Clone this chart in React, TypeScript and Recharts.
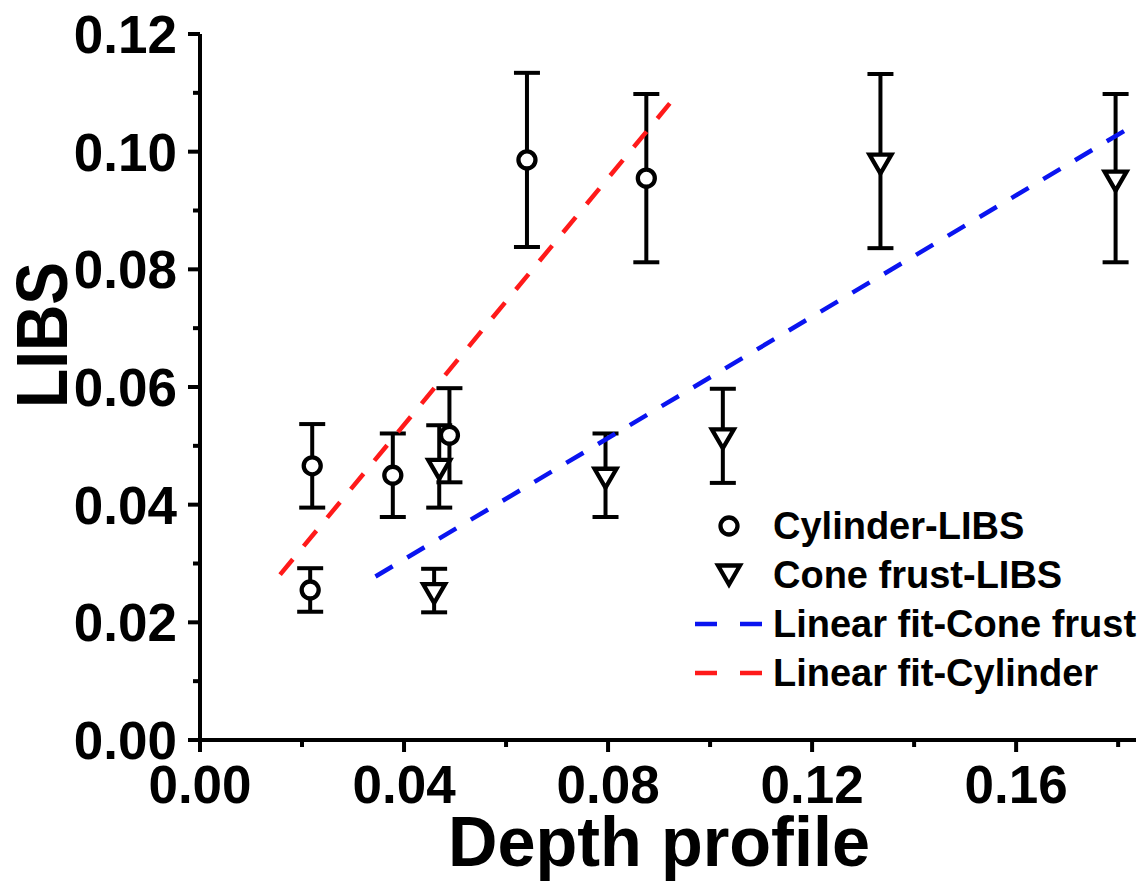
import { ScatterChart, Scatter, XAxis, YAxis, ErrorBar, Legend, Label } from 'recharts'

// values
const cylX = [0.022, 0.0216, 0.0378, 0.0489, 0.0641, 0.0875]
const cylY = [0.0466, 0.0255, 0.045, 0.0518, 0.0986, 0.0955]
const cylErr = [0.0071, 0.0037, 0.0071, 0.008, 0.0148, 0.0143]

const coneX = [0.0469, 0.0459, 0.0795, 0.1025, 0.1334, 0.1795]
const coneY = [0.0465, 0.0254, 0.045, 0.0517, 0.0984, 0.0955]
const coneErr = [0.007, 0.0037, 0.0071, 0.008, 0.0148, 0.0143]

const cylFitX = [0.0157, 0.0921]
const cylFitY = [0.0281, 0.1082]
const coneFitX = [0.0344, 0.1827]
const coneFitY = [0.0278, 0.1043]

const xTicks = [0, 0.02, 0.04, 0.06, 0.08, 0.1, 0.12, 0.14, 0.16, 0.18]
const yTicks = [0, 0.01, 0.02, 0.03, 0.04, 0.05, 0.06, 0.07, 0.08, 0.09, 0.1, 0.11, 0.12]

const legendNames = ['Cylinder-LIBS', 'Cone frust-LIBS', 'Linear fit-Cone frust', 'Linear fit-Cylinder']

const FONT = 'Arial, "Liberation Sans", sans-serif'
const RED = '#ff1a1a'
const BLUE = '#0a14f0'

const cylData = cylX.map((x, i) => ({ x, y: cylY[i], err: cylErr[i] }))
const coneData = coneX.map((x, i) => ({ x, y: coneY[i], err: coneErr[i] }))
const cylFit = cylFitX.map((x, i) => ({ x, y: cylFitY[i] }))
const coneFit = coneFitX.map((x, i) => ({ x, y: coneFitY[i] }))

function Circle({ cx, cy }: any) {
  return <circle cx={cx} cy={cy} r={8.5} fill="#fff" stroke="#000" strokeWidth={4.3} />
}

function TriDown({ cx, cy }: any) {
  return (
    <path
      d={`M${cx - 11},${cy - 6.5}L${cx + 11},${cy - 6.5}L${cx},${cy + 12.5}Z`}
      fill="#fff"
      stroke="#000"
      strokeWidth={4.3}
      strokeLinejoin="miter"
    />
  )
}

function XTick({ x, y, payload, index }: any) {
  const major = index % 2 === 0
  return (
    <g>
      <line x1={x} x2={x} y1={y} y2={y + (major ? 12 : 7)} stroke="#000" strokeWidth={4} />
      {major && (
        <text x={x} y={y + 63} textAnchor="middle" fontFamily={FONT} fontWeight="bold" fontSize={53} fill="#000">
          {payload.value.toFixed(2)}
        </text>
      )}
    </g>
  )
}

function YTick({ x, y, payload, index }: any) {
  const major = index % 2 === 0
  return (
    <g>
      <line x1={x} x2={x - (major ? 12 : 7)} y1={y} y2={y} stroke="#000" strokeWidth={4} />
      {major && (
        <text x={x - 23} y={y + 19} textAnchor="end" fontFamily={FONT} fontWeight="bold" fontSize={53} fill="#000">
          {payload.value.toFixed(2)}
        </text>
      )}
    </g>
  )
}

function LegendBox() {
  const rows = [31, 80, 129, 178]
  return (
    <svg width={468} height={200} style={{ display: 'block' }}>
      {legendNames.map((name, i) => {
        const cy = rows[i]
        let marker
        if (i === 0) marker = <Circle cx={49} cy={cy} />
        else if (i === 1) marker = <TriDown cx={49} cy={cy - 3} />
        else
          marker = (
            <line x1={15} x2={82} y1={cy} y2={cy} stroke={i === 2 ? BLUE : RED} strokeWidth={4.5} strokeDasharray="22 23" />
          )
        return (
          <g key={name}>
            {marker}
            <text x={93} y={cy + 13} fontFamily={FONT} fontWeight="bold" fontSize={38} fill="#000">
              {name}
            </text>
          </g>
        )
      })}
    </svg>
  )
}

export default function App() {
  return (
    <div style={{ position: 'absolute', left: 0, top: 0, width: 1148, height: 881, background: '#fff' }}>
      <ScatterChart width={1148} height={881} margin={{ top: 34, right: 12, left: 0, bottom: 0 }}>
        <XAxis
          type="number"
          dataKey="x"
          domain={[0, 0.1835]}
          ticks={xTicks}
          interval={0}
          height={141}
          tickSize={0}
          tickMargin={0}
          tickLine={false}
          tick={<XTick />}
          axisLine={{ stroke: '#000', strokeWidth: 4 }}
          allowDataOverflow
        >
          <Label
            content={() => (
              <text x={659} y={866} textAnchor="middle" fontFamily={FONT} fontWeight="bold" fontSize={71} textLength={422} lengthAdjust="spacingAndGlyphs" fill="#000">
                Depth profile
              </text>
            )}
          />
        </XAxis>
        <YAxis
          type="number"
          dataKey="y"
          domain={[0, 0.12]}
          ticks={yTicks}
          interval={0}
          width={200}
          tickSize={0}
          tickMargin={0}
          tickLine={false}
          tick={<YTick />}
          axisLine={{ stroke: '#000', strokeWidth: 4 }}
          allowDataOverflow
        >
          <Label
            content={() => (
              <text
                x={67}
                y={335}
                transform="rotate(-90 67 335)"
                textAnchor="middle"
                fontFamily={FONT}
                fontWeight="bold"
                fontSize={72}
                textLength={146}
                lengthAdjust="spacingAndGlyphs"
                fill="#000"
              >
                LIBS
              </text>
            )}
          />
        </YAxis>
        <Scatter
          name="Linear fit-Cone frust"
          data={coneFit}
          line={{ stroke: BLUE, strokeWidth: 4.5, strokeDasharray: '20 17' }}
          shape={() => <g />}
          isAnimationActive={false}
        />
        <Scatter
          name="Linear fit-Cylinder"
          data={cylFit}
          line={{ stroke: RED, strokeWidth: 4.5, strokeDasharray: '20 17' }}
          shape={() => <g />}
          isAnimationActive={false}
        />
        <Scatter name="Cone frust-LIBS" data={coneData} shape={<TriDown />} isAnimationActive={false}>
          <ErrorBar dataKey="err" direction="y" width={13} stroke="#000" strokeWidth={4} isAnimationActive={false} />
        </Scatter>
        <Scatter name="Cylinder-LIBS" data={cylData} shape={<Circle />} isAnimationActive={false}>
          <ErrorBar dataKey="err" direction="y" width={13} stroke="#000" strokeWidth={4} isAnimationActive={false} />
        </Scatter>
        <Legend
          layout="vertical"
          align="center"
          verticalAlign="middle"
          content={() => <LegendBox />}
          wrapperStyle={{ position: 'absolute', left: 680, top: 495, width: 468, height: 200 }}
        />
      </ScatterChart>
    </div>
  )
}
